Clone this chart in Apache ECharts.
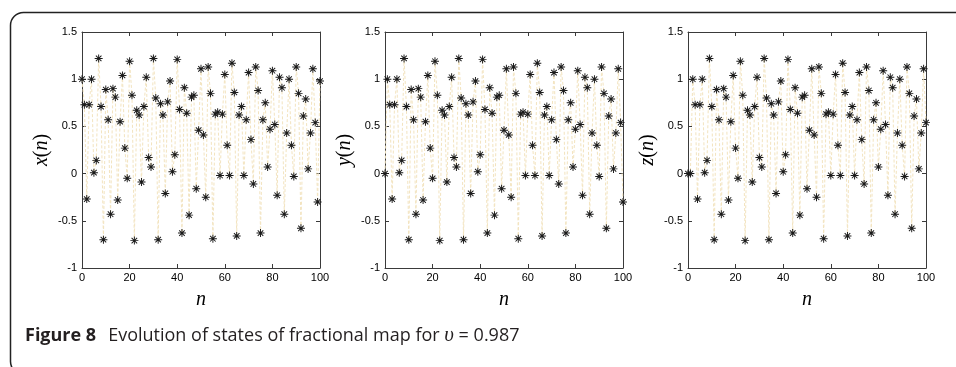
<!DOCTYPE html>
<html>
<head>
<meta charset="utf-8">
<script src="https://cdn.jsdelivr.net/npm/echarts@6/dist/echarts.min.js"></script>
<style>
  html, body { margin: 0; padding: 0; background: #fff; }
  #chart { width: 956px; height: 367px; }
</style>
</head>
<body>
<div id="chart"></div>
<script>
// n = 0..100
const nSteps = Array.from({ length: 101 }, (_, i) => i);

const xs = [1.00,0.73,-0.27,0.73,1.00,0.01,0.14,1.22,0.71,-0.70,
  0.89,0.57,-0.43,0.90,0.81,-0.28,0.55,1.04,0.27,-0.05,
  1.19,0.83,-0.71,0.67,0.62,-0.09,0.71,1.02,0.17,0.07,
  1.22,0.80,-0.70,0.74,0.62,-0.21,0.76,0.98,0.02,0.20,
  1.21,0.68,-0.63,0.91,0.64,-0.44,0.81,0.83,-0.16,0.46,
  1.11,0.41,-0.25,1.13,0.85,-0.69,0.63,0.65,-0.02,0.63,
  1.05,0.30,-0.02,1.17,0.86,-0.66,0.62,0.71,-0.02,0.57,
  1.07,0.36,-0.11,1.13,0.88,-0.63,0.57,0.75,0.07,0.47,
  1.09,0.52,-0.23,1.02,0.91,-0.43,0.43,1.00,0.30,-0.03,
  1.13,0.85,-0.58,0.61,0.79,0.05,0.43,1.11,0.54,-0.30,
  0.98];

const ys = [0.00,1.00,0.73,-0.27,0.73,1.00,0.01,0.14,1.22,0.71,
  -0.70,0.89,0.57,-0.43,0.90,0.81,-0.28,0.55,1.04,0.27,
  -0.05,1.19,0.83,-0.71,0.67,0.62,-0.09,0.71,1.02,0.17,
  0.07,1.22,0.80,-0.70,0.74,0.62,-0.21,0.76,0.98,0.02,
  0.20,1.21,0.68,-0.63,0.91,0.64,-0.44,0.81,0.83,-0.16,
  0.46,1.11,0.41,-0.25,1.13,0.85,-0.69,0.63,0.65,-0.02,
  0.63,1.05,0.30,-0.02,1.17,0.86,-0.66,0.62,0.71,-0.02,
  0.57,1.07,0.36,-0.11,1.13,0.88,-0.63,0.57,0.75,0.07,
  0.47,1.09,0.52,-0.23,1.02,0.91,-0.43,0.43,1.00,0.30,
  -0.03,1.13,0.85,-0.58,0.61,0.79,0.05,0.43,1.11,0.54,
  -0.30];

const zs = [0.00,0.00,1.00,0.73,-0.27,0.73,1.00,0.01,0.14,1.22,
  0.71,-0.70,0.89,0.57,-0.43,0.90,0.81,-0.28,0.55,1.04,
  0.27,-0.05,1.19,0.83,-0.71,0.67,0.62,-0.09,0.71,1.02,
  0.17,0.07,1.22,0.80,-0.70,0.74,0.62,-0.21,0.76,0.98,
  0.02,0.20,1.21,0.68,-0.63,0.91,0.64,-0.44,0.81,0.83,
  -0.16,0.46,1.11,0.41,-0.25,1.13,0.85,-0.69,0.63,0.65,
  -0.02,0.63,1.05,0.30,-0.02,1.17,0.86,-0.66,0.62,0.71,
  -0.02,0.57,1.07,0.36,-0.11,1.13,0.88,-0.63,0.57,0.75,
  0.07,0.47,1.09,0.52,-0.23,1.02,0.91,-0.43,0.43,1.00,
  0.30,-0.03,1.13,0.85,-0.58,0.61,0.79,0.05,0.43,1.11,
  0.54];

const panelNames = ['x', 'y', 'z'];
const panelData = [xs, ys, zs];
const gridLefts = [82, 385, 688];

// matlab-style '*' marker
const starPath = 'path://M0 8.8H20V11.2H0Z M8.8 0H11.2V20H8.8Z ' +
  'M2.2 3.9L3.9 2.2L17.8 16.1L16.1 17.8Z M16.1 2.2L17.8 3.9L3.9 17.8L2.2 16.1Z';

const chart = echarts.init(document.getElementById('chart'));

const axisLine = { show: true, onZero: false, lineStyle: { color: '#3a3a3a', width: 1 } };
const tickIn = { show: true, inside: true, length: 4, lineStyle: { color: '#3a3a3a' } };
const labelStyle = { color: '#000', fontFamily: 'Liberation Sans', fontSize: 11 };
const mathName = {
  rich: {
    i: { fontFamily: 'Liberation Serif', fontStyle: 'italic', fontSize: 20, color: '#000' },
    u: { fontFamily: 'Liberation Serif', fontSize: 20, color: '#000' }
  }
};

const grids = [], xAxes = [], yAxes = [], series = [];
panelData.forEach((vals, i) => {
  grids.push({ left: gridLefts[i], top: 32, width: 238, height: 236 });
  xAxes.push({
    type: 'value', gridIndex: i, min: 0, max: 100, interval: 20,
    axisLine, axisTick: tickIn, splitLine: { show: false },
    axisLabel: { ...labelStyle, margin: 4 },
    name: '{i|n}', nameLocation: 'middle', nameGap: 22, nameTextStyle: mathName
  });
  xAxes.push({
    type: 'value', gridIndex: i, min: 0, max: 100, interval: 20, position: 'top',
    axisLine, axisTick: tickIn, splitLine: { show: false }, axisLabel: { show: false }
  });
  yAxes.push({
    type: 'value', gridIndex: i, min: -1, max: 1.5, interval: 0.5,
    axisLine, axisTick: tickIn, splitLine: { show: false },
    axisLabel: { ...labelStyle, margin: 5 },
    name: '{i|' + panelNames[i] + '}{u|(}{i|n}{u|)}', nameLocation: 'middle',
    nameRotate: 90, nameGap: 30, nameTextStyle: mathName
  });
  yAxes.push({
    type: 'value', gridIndex: i, min: -1, max: 1.5, interval: 0.5, position: 'right',
    axisLine, axisTick: tickIn, splitLine: { show: false }, axisLabel: { show: false }
  });
  series.push({
    type: 'line', xAxisIndex: i * 2, yAxisIndex: i * 2,
    data: nSteps.map((n, k) => [n, vals[k]]),
    symbol: starPath, symbolSize: 8, showSymbol: true,
    itemStyle: { color: '#1a1a1a' },
    lineStyle: { color: '#f3e4c0', width: 1, type: [3, 2] },
    animation: false, silent: true
  });
});

chart.setOption({
  backgroundColor: '#fff',
  animation: false,
  grid: grids,
  xAxis: xAxes,
  yAxis: yAxes,
  series,
  graphic: [
    {
      type: 'rect', left: 8, top: 10,
      shape: { width: 1000, height: 362, r: 13 },
      style: { fill: 'none', stroke: '#222', lineWidth: 1.5 }, silent: true
    },
    {
      type: 'text', left: 25, top: 325,
      style: {
        text: '{b|Figure 8}{n|Evolution of states of fractional map for }{m|υ}{n| = 0.987}',
        rich: {
          b: { fontFamily: 'Open Sans', fontWeight: 'bold', fontSize: 18, fill: '#231f20', padding: [0, 12, 0, 0] },
          n: { fontFamily: 'Open Sans', fontSize: 18, fill: '#231f20' },
          m: { fontFamily: 'Liberation Serif', fontStyle: 'italic', fontSize: 21, fill: '#231f20' }
        }
      }
    }
  ]
});
</script>
</body>
</html>
